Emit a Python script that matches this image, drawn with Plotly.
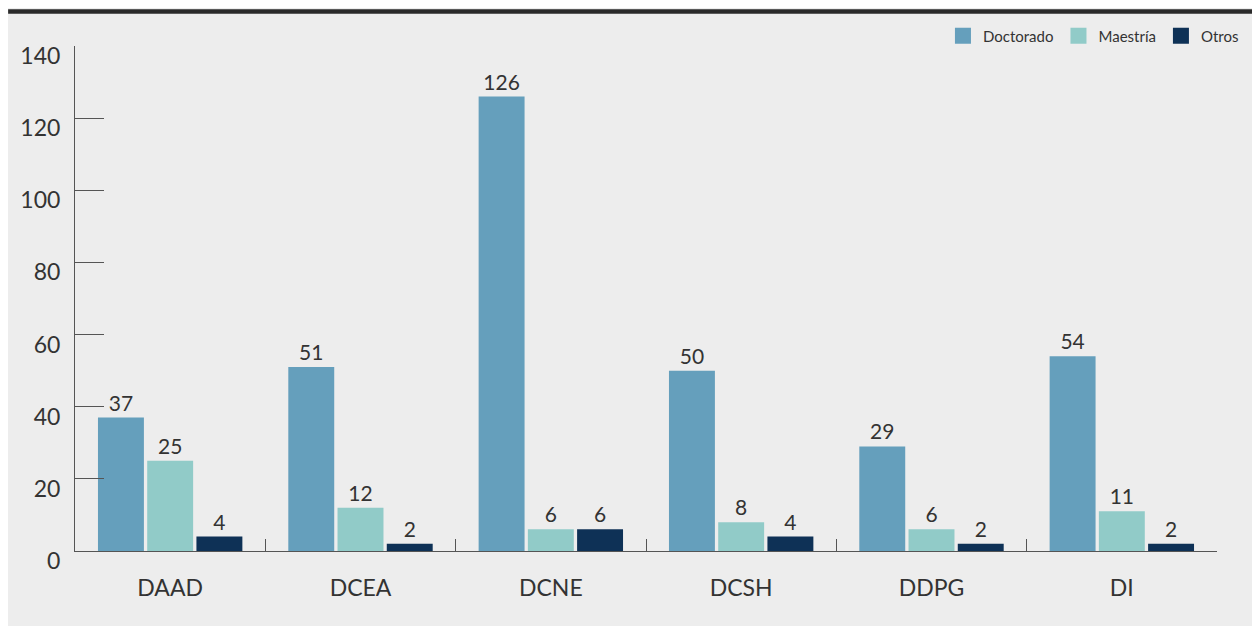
import plotly.graph_objects as go

# departamentos y conteos por grado
departamentos = ["DAAD", "DCEA", "DCNE", "DCSH", "DDPG", "DI"]
doctorado = [37, 51, 126, 50, 29, 54]
maestria = [25, 12, 6, 8, 6, 11]
otros = [4, 2, 6, 4, 2, 2]
y_ticks = [0, 20, 40, 60, 80, 100, 120, 140]

series = [
    ("Doctorado", doctorado, "#659fbc"),
    ("Maestría", maestria, "#91cbc8"),
    ("Otros", otros, "#0e3156"),
]

FONT = "Lato"
TEXT = "#333333"

fig = go.Figure()

for name, values, color in series:
    fig.add_bar(
        x=departamentos,
        y=values,
        name=name,
        marker=dict(color=color, line=dict(width=0)),
        text=values,
        textposition="outside",
        textfont=dict(family=FONT, size=21, color=TEXT),
        cliponaxis=False,
        showlegend=False,
    )
    # legend-only entry with a larger square swatch
    fig.add_scatter(
        x=[None],
        y=[None],
        mode="markers",
        name=name,
        marker=dict(symbol="square", size=16, color=color),
    )

# the page body keeps its default 8px margin, so the figure sits at (8, 8)
W, H = 1252, 618
L, R, T, B = 65, 43, 35, 75
pw, ph = W - L - R, H - T - B


def px_x(p):
    return (p - L) / pw


def px_y(q):
    return (H - B - q) / ph


# dark rule along the top edge
fig.add_shape(type="rect", xref="paper", yref="paper",
              x0=px_x(-2), x1=px_x(W + 5), y0=px_y(2.5), y1=px_y(-2),
              fillcolor="#2a2a2a", line=dict(width=0), layer="below")

fig.update_layout(
    width=W,
    height=H,
    margin=dict(l=L, r=R, t=T, b=B, pad=0),
    paper_bgcolor="#ededed",
    plot_bgcolor="#ededed",
    font=dict(family=FONT, color=TEXT),
    barmode="group",
    bargap=0.224,
    bargroupgap=0.067,
    legend=dict(
        orientation="h",
        x=px_x(1236),
        xanchor="right",
        y=px_y(25),
        yanchor="middle",
        font=dict(size=15, color=TEXT),
        bgcolor="rgba(0,0,0,0)",
        itemsizing="trace",
        traceorder="normal",
    ),
)

fig.update_xaxes(
    showline=True,
    linecolor="#555555",
    linewidth=1,
    ticks="inside",
    tickson="boundaries",
    ticklen=12,
    tickcolor="#555555",
    tickfont=dict(size=23, color=TEXT),
    ticklabelstandoff=16,
    showgrid=False,
    zeroline=False,
)

fig.update_yaxes(
    range=[0, 140],
    tickvals=y_ticks,
    showline=True,
    linecolor="#555555",
    linewidth=1,
    ticks="inside",
    ticklen=29,
    tickcolor="#555555",
    tickfont=dict(size=23, color=TEXT),
    ticklabelstandoff=9,
    ticklabelshift=10,
    showgrid=False,
    zeroline=False,
)

fig.write_html("out.html")
